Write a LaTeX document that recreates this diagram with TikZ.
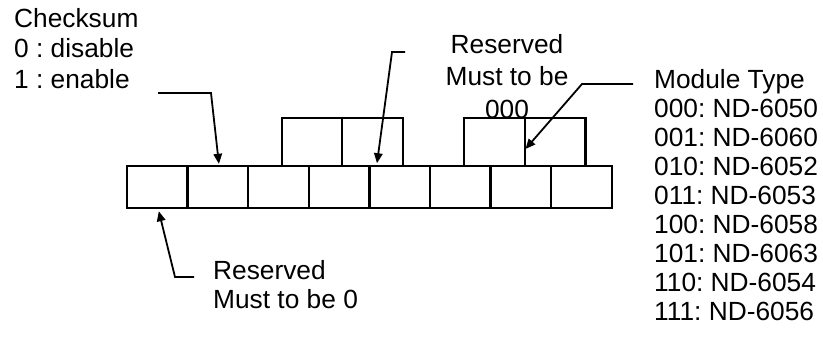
\documentclass[tikz,border=0pt]{standalone}
\usepackage{fontspec}
\setmainfont{Liberation Sans}
\usetikzlibrary{arrows.meta,calc}
\frenchspacing
\begin{document}
\begin{tikzpicture}[x=1pt,y=-1pt,
  cell/.style={draw,line width=2.4pt,fill=white,minimum width=60.6pt,inner sep=0pt},
  lowcell/.style={cell,minimum height=42pt},
  highcell/.style={cell,minimum height=48pt},
  lbl/.style={inner sep=0pt,font=\fontsize{26.3}{30}\selectfont},
  pointer/.style={line width=1.8pt,-{Triangle[length=10pt,width=8.5pt]}}]
\useasboundingbox (0,0) rectangle (823,341);
% labels
\node[lbl,anchor=north west,align=left,font=\fontsize{26.3}{30.5}\selectfont] (chk) at (14,8) {Checksum\\0 : disable\\1 : enable};
\node[lbl,anchor=north,align=center,font=\fontsize{26.3}{32.5}\selectfont] (res) at (507,34) {Reserved\\Must to be\\000};
\node[lbl,anchor=north west,align=left,font=\fontsize{26.3}{29}\selectfont] (mod) at (654,69)
  {Module Type\\000: ND-6050\\001: ND-6060\\010: ND-6052\\011: ND-6053\\100: ND-6058\\101: ND-6063\\110: ND-6054\\111: ND-6056};
\node[lbl,anchor=north west,align=left,font=\fontsize{26.3}{29.5}\selectfont] (res0) at (213,260) {Reserved\\Must to be 0};
% upper cells
\node[highcell] (u1) at (312,142) {};
\node[highcell] (u2) at (372.5,142) {};
\node[highcell] (u3) at (494.5,142) {};
\node[highcell] (u4) at (555,142) {};
% bottom cells
\foreach \i/\x in {1/157.3,2/217.9,3/278.5,4/339.1,5/399.7,6/460.3,7/520.9,8/581.5}
  \node[lowcell] (b\i) at (\x,187) {};
% pointers
\coordinate (chkend) at (158,93);
\coordinate (resend) at (405,52);
\coordinate (modend) at (633,84);
\coordinate (r0end) at (194,277);
\draw[pointer] (chkend) -- ++(53,0) -- ($(b2.north)+(1,-1)$);
\draw[pointer] (resend) -- ++(-13,0) -- ($(u2.south)+(4.5,-4)$);
\draw[pointer] (modend) -- ++(-51,0) -- ($(u4.west)+(2,7)$);
\draw[pointer] (r0end) -- ++(-19,0) -- ($(b1.south)+(1.5,2)$);
\end{tikzpicture}
\end{document}
